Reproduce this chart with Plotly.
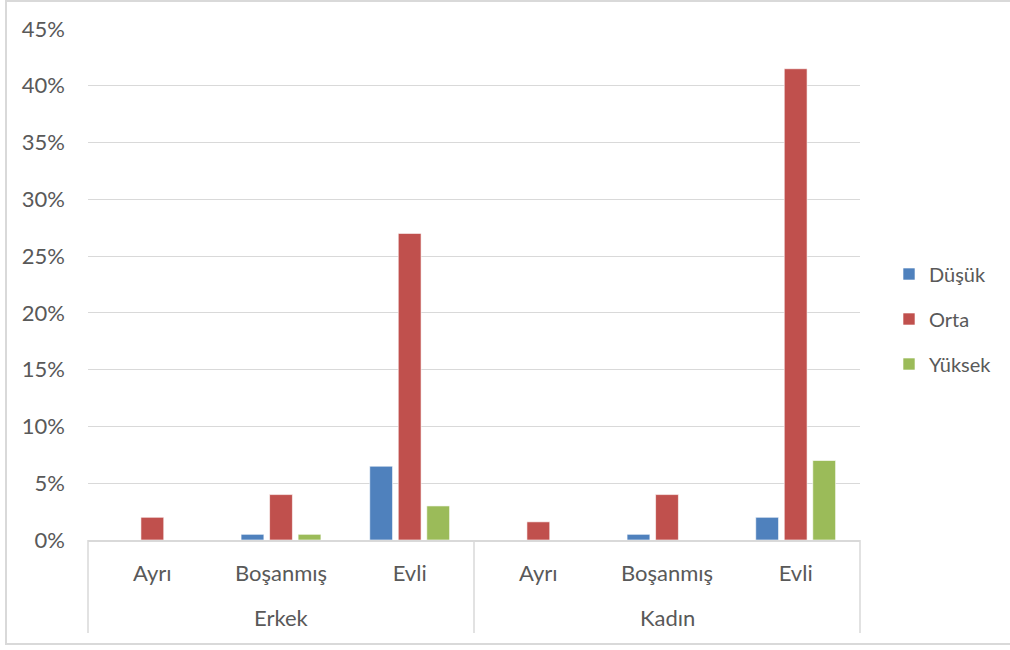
import plotly.graph_objects as go

groups = ["Erkek", "Kadın"]
subcats = ["Ayrı", "Boşanmış", "Evli"]
series_names = ["Düşük", "Orta", "Yüksek"]
dusuk = [0.0, 0.005, 0.065, 0.0, 0.005, 0.02]
orta = [0.02, 0.04, 0.27, 0.016, 0.04, 0.415]
yuksek = [0.0, 0.005, 0.03, 0.0, 0.0, 0.07]
colors = ["#4F81BD", "#C0504D", "#9BBB59"]
y_ticks = [0, 0.05, 0.10, 0.15, 0.20, 0.25, 0.30, 0.35, 0.40, 0.45]

W, H = 1010, 650
L, R, T, B = 88, 150, 29, 110
pw, ph = W - L - R, H - T - B

def px_x(p):
    return (p - L) / pw

def px_y(p):
    return (H - B - p) / ph

cats = [f"{g} {s}" for g in groups for s in subcats]
ticktext = [s for g in groups for s in subcats]

FONT = "Lato"
TXT = "#595959"
GRID = "#D9D9D9"

fig = go.Figure()
for i, (name, vals) in enumerate(zip(series_names, [dusuk, orta, yuksek])):
    fig.add_trace(go.Bar(
        x=cats, y=vals, name=name,
        marker=dict(color=colors[i], line=dict(color="rgba(255,255,255,0.6)", width=1)),
        legendgroup=name,
    ))

shapes = []
for xp in [0, 0.5, 1]:
    shapes.append(dict(type="line", xref="paper", yref="paper", x0=xp, x1=xp,
                       y0=0, y1=px_y(633), line=dict(color=GRID, width=1.5)))
shapes.append(dict(type="rect", xref="paper", yref="paper",
                   x0=px_x(6), x1=px_x(1020), y0=px_y(644), y1=px_y(1),
                   line=dict(color=GRID, width=2), fillcolor="rgba(0,0,0,0)", layer="below"))

annotations = []
for gi, g in enumerate(groups):
    annotations.append(dict(x=cats[gi * 3 + 1], y=px_y(617), xref="x", yref="paper",
                            text=g, showarrow=False, yanchor="middle",
                            font=dict(family=FONT, size=22, color=TXT)))

fig.update_layout(
    width=W, height=H,
    margin=dict(l=L, r=R, t=T, b=B),
    paper_bgcolor="white", plot_bgcolor="white",
    barmode="group", bargap=0.335, bargroupgap=0.2,
    font=dict(family=FONT, size=22, color=TXT),
    xaxis=dict(type="category", tickvals=cats, ticktext=ticktext,
               showgrid=False, showline=True, linecolor=GRID, linewidth=1.5,
               ticks="", ticklabelstandoff=13, tickfont=dict(size=22, color=TXT)),
    yaxis=dict(range=[0, 0.45], tickvals=y_ticks, tickformat=".0%",
               showgrid=True, gridcolor=GRID, gridwidth=1.2, zeroline=False,
               showline=False, ticks="", ticklabelstandoff=22,
               tickfont=dict(size=22, color=TXT)),
    legend=dict(x=px_x(889), y=px_y(319), xanchor="left", yanchor="middle",
                font=dict(family=FONT, size=20, color=TXT),
                tracegroupgap=16, traceorder="grouped", bgcolor="rgba(0,0,0,0)"),
    shapes=shapes, annotations=annotations,
)

fig.write_html("out.html", config={"displayModeBar": False},
               post_script="document.body.style.margin='0';document.body.style.overflow='hidden';")
